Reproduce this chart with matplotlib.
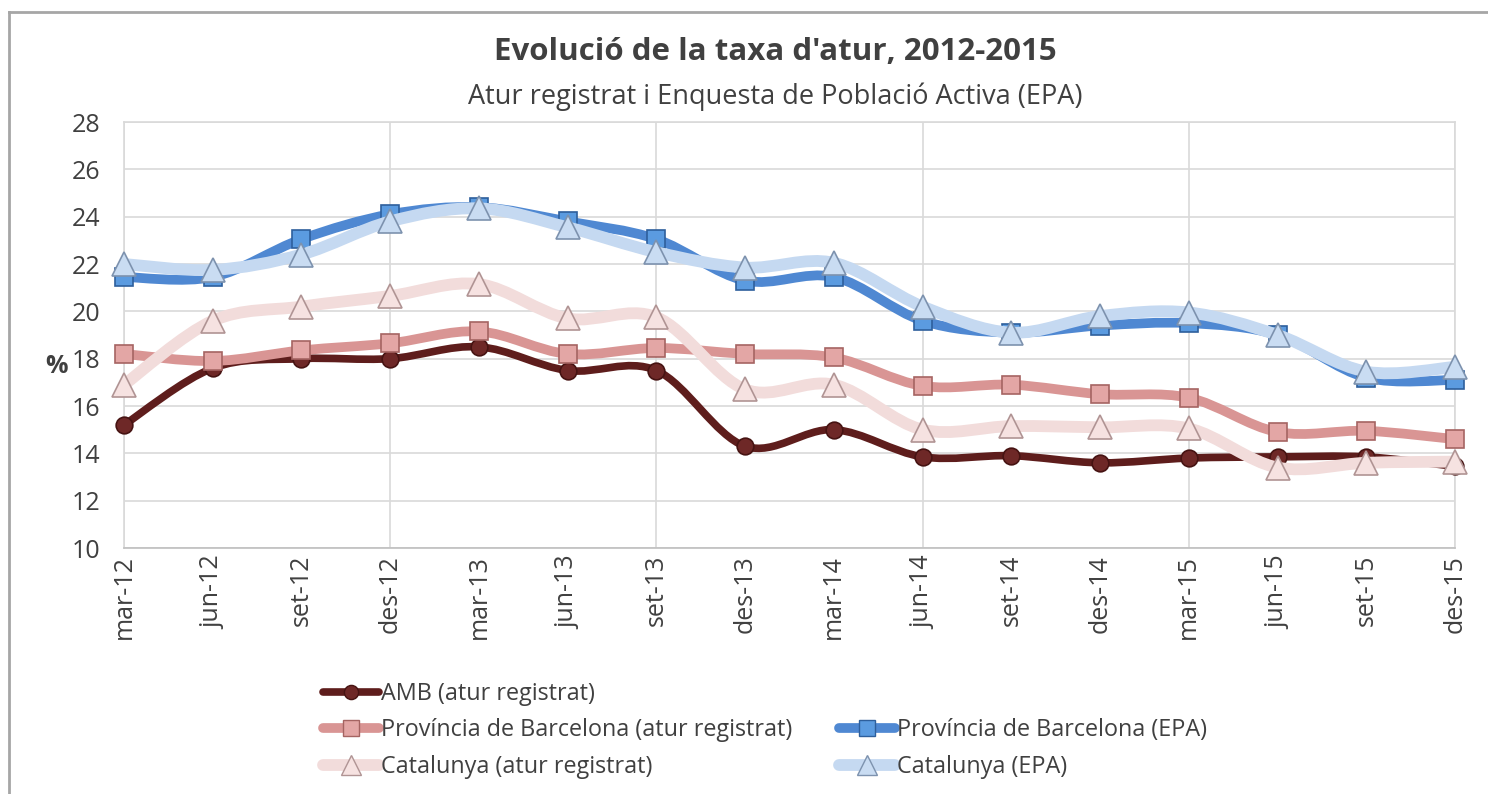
import matplotlib
matplotlib.use("Agg")
import matplotlib.pyplot as plt
from matplotlib.path import Path
from matplotlib.patches import PathPatch
from matplotlib.lines import Line2D

plt.rcParams['font.family'] = ['Open Sans', 'DejaVu Sans']

periodes = ["mar-12", "jun-12", "set-12", "des-12", "mar-13", "jun-13", "set-13", "des-13",
            "mar-14", "jun-14", "set-14", "des-14", "mar-15", "jun-15", "set-15", "des-15"]

amb_reg = [15.2, 17.6, 18.0, 18.0, 18.5, 17.5, 17.5, 14.3, 15.0, 13.85, 13.9, 13.6, 13.8, 13.85, 13.85, 13.45]
bcn_reg = [18.2, 17.9, 18.35, 18.65, 19.15, 18.2, 18.45, 18.2, 18.05, 16.85, 16.9, 16.5, 16.35, 14.9, 14.95, 14.6]
cat_reg = [16.9, 19.6, 20.2, 20.65, 21.15, 19.7, 19.75, 16.7, 16.9, 15.0, 15.15, 15.1, 15.05, 13.4, 13.6, 13.65]
bcn_epa = [21.45, 21.45, 23.05, 24.1, 24.4, 23.8, 23.05, 21.3, 21.45, 19.6, 19.1, 19.4, 19.5, 19.0, 17.2, 17.1]
cat_epa = [22.0, 21.75, 22.4, 23.8, 24.35, 23.55, 22.5, 21.85, 22.05, 20.2, 19.1, 19.8, 19.95, 19.0, 17.45, 17.65]

noms = ["AMB (atur registrat)", "Província de Barcelona (atur registrat)", "Catalunya (atur registrat)",
        "Província de Barcelona (EPA)", "Catalunya (EPA)"]

estils = [
    dict(color="#5E1D1C", lw=5.5, marker="o", ms=12, mfc="#6E2827", mec="#461312"),
    dict(color="#D99594", lw=7, marker="s", ms=13.5, mfc="#E3A6A5", mec="#A56462"),
    dict(color="#F2DCDB", lw=8.5, marker="^", ms=17, mfc="#F6E2E1", mec="#B09494"),
    dict(color="#4F88D2", lw=7, marker="s", ms=13.5, mfc="#5B9BE0", mec="#2E5F9C"),
    dict(color="#C5D9F1", lw=8.5, marker="^", ms=17, mfc="#C9DCF2", mec="#7D92AE"),
]
series = [amb_reg, bcn_reg, cat_reg, bcn_epa, cat_epa]


def corba(xs, ys):
    # línia suavitzada tipus Excel (Bezier)
    n = len(xs)
    verts = [(xs[0], ys[0])]
    codes = [Path.MOVETO]
    for i in range(n - 1):
        x0, y0 = (xs[i - 1], ys[i - 1]) if i > 0 else (xs[i], ys[i])
        x1, y1 = xs[i], ys[i]
        x2, y2 = xs[i + 1], ys[i + 1]
        x3, y3 = (xs[i + 2], ys[i + 2]) if i + 2 < n else (x2, y2)
        c1 = (x1 + (x2 - x0) / 6, y1 + (y2 - y0) / 6)
        c2 = (x2 - (x3 - x1) / 6, y2 - (y3 - y1) / 6)
        verts += [c1, c2, (x2, y2)]
        codes += [Path.CURVE4] * 3
    return Path(verts, codes)


fig = plt.figure(figsize=(14.88, 7.94), dpi=100)
ax = fig.add_axes([124 / 1488, 1 - 548 / 794, (1455 - 124) / 1488, (548 - 122) / 794])

x = list(range(len(periodes)))
z = 3
for k in range(5):
    st = estils[k]
    ax.add_patch(PathPatch(corba(x, series[k]), fill=False, edgecolor=st["color"], lw=st["lw"],
                           capstyle="round", joinstyle="round", zorder=z))
    ax.plot(x, series[k], ls="none", marker=st["marker"], ms=st["ms"], mfc=st["mfc"],
            mec=st["mec"], mew=1.2, zorder=z + 0.5, clip_on=False)
    z += 1

ax.set_xlim(0, 15)
ax.set_ylim(10, 28)
ax.set_yticks(range(10, 29, 2))
ax.set_xticks(x)
ax.set_xticklabels(periodes, rotation=90)
ax.tick_params(length=0, labelsize=18, colors="#404040")
ax.tick_params(axis="y", pad=17)
ax.tick_params(axis="x", pad=5)
ax.set_axisbelow(True)
ax.grid(axis="y", color="#D9D9D9", lw=1.2)
for xv in range(0, 16, 3):
    ax.axvline(xv, color="#D9D9D9", lw=1.2, zorder=0)
for s in ax.spines.values():
    s.set_color("#D9D9D9")
    s.set_linewidth(1.2)
ax.spines["bottom"].set_color("#BFBFBF")

fig.text(56 / 1488, 1 - 367 / 794, "%", fontsize=18, fontweight="bold", color="#404040",
         ha="center", va="center")
fig.text(775 / 1488, 1 - 52 / 794, "Evolució de la taxa d'atur, 2012-2015", fontsize=22.5,
         fontweight="bold", color="#404040", ha="center", va="center")
fig.text(775 / 1488, 1 - 97 / 794, "Atur registrat i Enquesta de Població Activa (EPA)", fontsize=19.5,
         color="#404040", ha="center", va="center")

# marc del gràfic
fig.add_artist(Line2D([9 / 1488, 9 / 1488], [0, 1 - 12 / 794], color="#A6A6A6", lw=2))
fig.add_artist(Line2D([9 / 1488, 1], [1 - 12 / 794, 1 - 12 / 794], color="#A6A6A6", lw=2))

handles = []
for k in range(5):
    st = estils[k]
    handles.append(Line2D([], [], color=st["color"], lw=st["lw"], marker=st["marker"],
                          ms=st["ms"] * 0.85, mfc=st["mfc"], mec=st["mec"], solid_capstyle="round"))
buit = Line2D([], [], color="none")
leg_h = [handles[0], handles[1], handles[2], buit, handles[3], handles[4]]
leg_l = [noms[0], noms[1], noms[2], "", noms[3], noms[4]]
fig.legend(leg_h, leg_l, ncol=2, loc="upper left", bbox_to_anchor=(311 / 1488, 1 - 670 / 794),
           frameon=False, fontsize=16.8, labelcolor="#404040", handlelength=2.4,
           handletextpad=0.1, columnspacing=2.0, labelspacing=0.55, borderpad=0)

fig.savefig("out.png", dpi=100)
